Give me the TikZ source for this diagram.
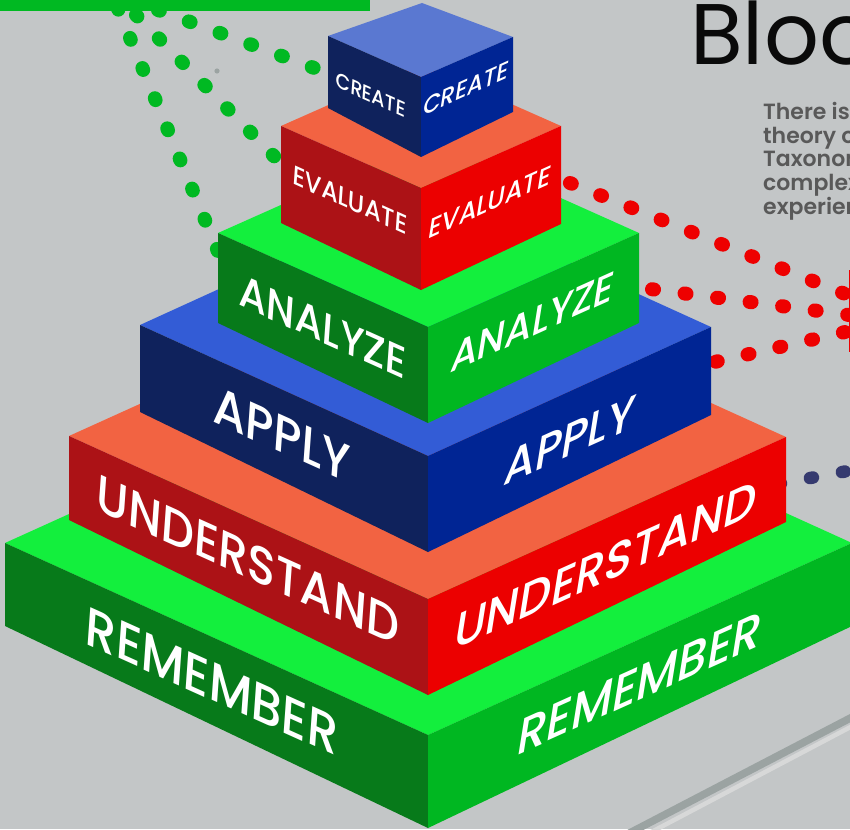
\documentclass[tikz,border=0pt]{standalone}
\usepackage{fontspec}
\setmainfont{Poppins}
\usepackage{graphicx}

% faces for the step labels and the body text
\IfFontExistsTF{Poppins Medium}
  {\newfontfamily\stepfont{Poppins Medium}}
  {\newfontfamily\stepfont{Poppins}[FakeBold=1]}
\IfFontExistsTF{Poppins SemiBold}
  {\newfontfamily\bodyfont{Poppins SemiBold}}
  {\newfontfamily\bodyfont{Poppins}[FakeBold=1.5]}

\definecolor{bg}{HTML}{C3C6C7}
\definecolor{grTop}{HTML}{13EF3D}
\definecolor{grLeft}{HTML}{077A1A}
\definecolor{grRight}{HTML}{00B721}
\definecolor{rdTop}{HTML}{F26342}
\definecolor{rdLeft}{HTML}{AC1216}
\definecolor{rdRight}{HTML}{EC0000}
\definecolor{blTop}{HTML}{335CD6}
\definecolor{blTopLight}{HTML}{5A78D1}
\definecolor{blLeft}{HTML}{0F225C}
\definecolor{blRight}{HTML}{002594}
\definecolor{dotGreen}{HTML}{00B922}
\definecolor{dotRed}{HTML}{EE0000}
\definecolor{dotNavy}{HTML}{353A6F}
\definecolor{railDark}{HTML}{9BA3A2}
\definecolor{railLight}{HTML}{D7D8D8}
\definecolor{titleInk}{HTML}{0A0A0A}
\definecolor{bodyInk}{HTML}{595959}

% one step of the pyramid: top, left and right faces from named corners
\newcommand\pyrtier[4]{%
  \fill[#2] (#1Lt) -- (#1Ft) -- (#1Rt) -- (#1Bk) -- cycle;
  \fill[#3] (#1Lt) -- (#1Ft) -- (#1Fb) -- (#1Lb) -- cycle;
  \fill[#4] (#1Ft) -- (#1Rt) -- (#1Rb) -- (#1Fb) -- cycle;}

\begin{document}
\begin{tikzpicture}[x=1pt,y=-1pt,
  lbl/.style={text=white, inner sep=0pt, font=\stepfont},
  lface/.style={lbl, cm={1,-0.45,0.08,1.12,(0,0)}},
  rface/.style={lbl, cm={1,0.45,0.18,1.12,(0,0)}},
  dotline/.style={line width=14pt, line cap=round, dash pattern=on 2pt off 30.6pt},
  navyline/.style={dotNavy, line width=12.5pt, line cap=round, dash pattern=on 3pt off 29.5pt},
  bodytext/.style={anchor=base west, inner sep=0pt, text=bodyInk,
                   font=\fontsize{22}{23.5}\selectfont\bodyfont}]

\useasboundingbox (0,0) rectangle (850,829);
\fill[bg] (0,0) rectangle (850,829);
\clip (0,0) rectangle (850,829);

% rails in the lower right corner
\coordinate (railA1) at (620,838);
\coordinate (railA2) at (860,713);
\coordinate (railB1) at (640,838);
\coordinate (railB2) at (860,722);
\draw[railDark, line width=7.5pt] (railA1) -- (railA2);
\draw[railLight, line width=4.5pt] (railB1) -- (railB2);

% dotted leader lines
\coordinate (gA1) at (117.6,7.8);  \coordinate (gA2) at (240,305);
\coordinate (gB1) at (136,15);     \coordinate (gB2) at (310,193);
\coordinate (gC1) at (158,10);     \coordinate (gC2) at (360,85);
\draw[dotline, dotGreen] (gA1) -- (gA2);
\draw[dotline, dotGreen] (gB1) -- (gB2);
\draw[dotline, dotGreen, dash pattern=on 2pt off 30.8pt] (gC1) -- (gC2);

\coordinate (rA1) at (539.7,170.8); \coordinate (rA2) at (880,308);
\coordinate (rB1) at (619.5,285);   \coordinate (rB2) at (880,319);
\coordinate (rC1) at (684,369);     \coordinate (rC2) at (880,324);
\draw[dotline, dotRed] (rA1) -- (rA2);
\draw[dotline, dotRed, dash pattern=on 2pt off 30.8pt] (rB1) -- (rB2);
\draw[dotline, dotRed] (rC1) -- (rC2);

\coordinate (nA1) at (778,484); \coordinate (nA2) at (880,465);
\draw[navyline] (nA1) -- (nA2);

% bar at the top left and the small grey dot
\fill[dotGreen] (0,0) rectangle (370,10.7);
\fill[railDark] (217,71) circle (2.6);

% red edge at the right border
\fill[dotRed] (849,270) rectangle (853,352);

% pyramid corners
\coordinate (reLt) at (5,543);   \coordinate (reFt) at (428,735); \coordinate (reRt) at (852,543);
\coordinate (reBk) at (429,351); \coordinate (reLb) at (5,626);   \coordinate (reFb) at (428,828);
\coordinate (reRb) at (852,626);

\coordinate (unLt) at (69,436);  \coordinate (unFt) at (428,599); \coordinate (unRt) at (786,437);
\coordinate (unBk) at (427,274); \coordinate (unLb) at (69,520);  \coordinate (unFb) at (428,695);
\coordinate (unRb) at (786,522);

\coordinate (apLt) at (140,325); \coordinate (apFt) at (428,456); \coordinate (apRt) at (711,327);
\coordinate (apBk) at (423,196); \coordinate (apLb) at (140,412); \coordinate (apFb) at (428,552);
\coordinate (apRb) at (711,415);

\coordinate (anLt) at (218,233); \coordinate (anFt) at (428,327); \coordinate (anRt) at (639,233);
\coordinate (anBk) at (429,139); \coordinate (anLb) at (218,323); \coordinate (anFb) at (428,423);
\coordinate (anRb) at (639,323);

\coordinate (evLt) at (281,126); \coordinate (evFt) at (421,188); \coordinate (evRt) at (561,126);
\coordinate (evBk) at (421,64);  \coordinate (evLb) at (281,223); \coordinate (evFb) at (421,290);
\coordinate (evRb) at (561,224);

\coordinate (crLt) at (328,36);  \coordinate (crFt) at (421,77);  \coordinate (crRt) at (513,37);
\coordinate (crBk) at (422,3);   \coordinate (crLb) at (328,108); \coordinate (crFb) at (421,157);
\coordinate (crRb) at (513,112);

% pyramid, bottom step first
\pyrtier{re}{grTop}{grLeft}{grRight}
\node[lface] (reL) at (212,681) {\resizebox{252pt}{!}{REMEMBER}};
\node[rface] (reR) at (640,683) {\resizebox{244pt}{!}{REMEMBER}};

\pyrtier{un}{rdTop}{rdLeft}{rdRight}
\node[lface] (unL) at (248,560) {\resizebox{302pt}{!}{UNDERSTAND}};
\node[rface] (unR) at (606,565) {\resizebox{302pt}{!}{UNDERSTAND}};

\pyrtier{ap}{blTop}{blLeft}{blRight}
\node[lface] (apL) at (282,434) {\resizebox{137pt}{!}{APPLY}};
\node[rface] (apR) at (570,440) {\resizebox{130pt}{!}{APPLY}};

\pyrtier{an}{grTop}{grLeft}{grRight}
\node[lface] (anL) at (323,327) {\resizebox{167pt}{!}{ANALYZE}};
\node[rface] (anR) at (533,322) {\resizebox{163pt}{!}{ANALYZE}};

\pyrtier{ev}{rdTop}{rdLeft}{rdRight}
\node[lface] (evL) at (350,200) {\resizebox{114pt}{!}{EVALUATE}};
\node[rface] (evR) at (490,202) {\resizebox{122pt}{!}{EVALUATE}};

\pyrtier{cr}{blTopLight}{blLeft}{blRight}
\node[lface] (crL) at (371,95) {\resizebox{70pt}{!}{CREATE}};
\node[rface] (crR) at (466,88) {\resizebox{85pt}{!}{CREATE}};

% heading and text on the right
\node[anchor=base west, inner sep=0pt, text=titleInk,
      font=\fontsize{86}{90}\selectfont] (title) at (690,65) {Bloom's Taxonomy};
\node[bodytext] (par1) at (763,120)   {There is a};
\node[bodytext] (par2) at (763,143.5) {theory of};
\node[bodytext] (par3) at (763,167)   {Taxonomy};
\node[bodytext] (par4) at (763,190.5) {complex};
\node[bodytext] (par5) at (763,214)   {experience};

\end{tikzpicture}
\end{document}
